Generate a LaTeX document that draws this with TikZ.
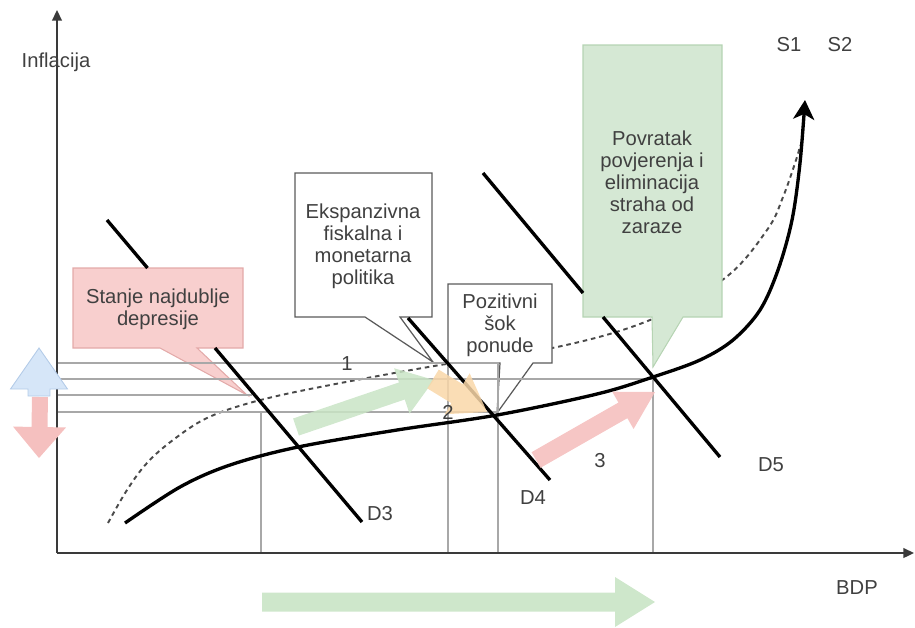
\documentclass[tikz,border=0pt]{standalone}
\usepackage{fontspec}
\setmainfont{Liberation Sans}
\usetikzlibrary{calc,arrows.meta}
\definecolor{txt}{HTML}{404040}
\definecolor{gridc}{HTML}{A8A8A8}
\definecolor{axisc}{HTML}{3A3A3A}
\definecolor{dashc}{HTML}{4A4A4A}
\definecolor{pinkfill}{HTML}{F8CFCE}
\definecolor{pinkdraw}{HTML}{E3AAA9}
\definecolor{greenfill}{HTML}{D5E8D4}
\definecolor{greendraw}{HTML}{B6D4B3}
\definecolor{boxdraw}{HTML}{5A5A5A}
\definecolor{garrow}{HTML}{C9E4C5}
\definecolor{oarrow}{HTML}{F9D7A8}
\definecolor{parrow}{HTML}{F5C0BF}
\definecolor{bfill}{HTML}{D6E6F8}
\definecolor{bdraw}{HTML}{B3CBE8}
\tikzset{
  gridln/.style={draw=gridc, line width=0.8pt},
  blk/.style={draw=black, line width=1.9pt},
  axisln/.style={draw=axisc, line width=1pt, -{Triangle[width=5.5pt,length=6pt]}},
  lbl/.style={font=\fontsize{11.5}{12.5}\selectfont, text=txt, inner sep=0pt},
  boxtxt/.style={lbl, align=center},
  cpink/.style={fill=pinkfill, draw=pinkdraw, line width=0.6pt},
  cgreen/.style={fill=greenfill, draw=greendraw, line width=0.6pt},
  cwhite/.style={fill=white, draw=boxdraw, line width=0.7pt},
  dashcurve/.style={draw=dashc, line width=1.1pt, dash pattern=on 2.6pt off 2.2pt},
}
% #1 style, #2 tail, #3 tip, #4 body half width, #5 head half width, #6 head length
\newcommand{\blockarr}[6]{%
  \coordinate (bac) at ($(#3)!#6!(#2)$);
  \path[#1] ($(#2)!#4!90:(#3)$) -- ($(bac)!#4!-90:(#2)$) -- ($(bac)!#5!-90:(#2)$) -- (#3)
    -- ($(bac)!#5!90:(#2)$) -- ($(bac)!#4!90:(#2)$) -- ($(#2)!#4!-90:(#3)$) -- cycle;
}
\begin{document}
\begin{tikzpicture}[x=0.02cm,y=-0.02cm]
\useasboundingbox (0,0) rectangle (915,627);

% dashed supply curve S1
\draw[dashcurve] plot[smooth, tension=0.6] coordinates {(108,523) (127,490) (147,463) (173,440) (207,418) (253,402) (320,387) (440,365) (557,347) (650,320) (725,278) (767,230) (783,197) (797,157) (800,145)};

% callouts
\path[cpink] (73,268) -- (243,268) -- (243,348) -- (197,348) -- (247,395) -- (160,348) -- (73,348) -- cycle;
\node[boxtxt] (tpink) at (158,309) {Stanje najdublje\\depresije};

\path[cwhite] (295,173) -- (432,173) -- (432,317) -- (400,317) -- (433,362) -- (365,317) -- (295,317) -- cycle;
\node[boxtxt] (teksp) at (363,246) {Ekspanzivna\\fiskalna i\\monetarna\\politika};

\path[cwhite] (448,284) -- (552,284) -- (552,363) -- (533,363) -- (497,413) -- (500,363) -- (448,363) -- cycle;
\node[boxtxt] (tpoz) at (500,325) {Pozitivni\\šok\\ponude};

\path[cgreen] (583,45) -- (722,45) -- (722,317) -- (683,317) -- (653,367) -- (652,317) -- (583,317) -- cycle;
\node[boxtxt] (tpov) at (652,182) {Povratak\\povjerenja i\\eliminacija\\straha od\\zaraze};

% grid / projection lines
\draw[gridln] (57,363) -- (498,363) -- (498,553);
\draw[gridln] (57,379) -- (653,379) -- (653,553);
\draw[gridln] (57,395) -- (252,395);
\draw[gridln] (57,412) -- (497,412);
\draw[gridln] (261,412) -- (261,553);
\draw[gridln] (448,363) -- (448,553);

% axes
\coordinate (O) at (57,553);
\coordinate (ytop) at (57,10);
\coordinate (xend) at (914,553);
\draw[axisln] (O) -- (ytop);
\draw[axisln] (O) -- (xend);

% demand lines
\coordinate (d3a) at (107,220); \coordinate (d3b) at (147.5,268);
\coordinate (d3c) at (215,348); \coordinate (d3d) at (362,522);
\draw[blk] (d3a) -- (d3b);
\draw[blk] (d3c) -- (d3d);
\coordinate (d4a) at (408,318); \coordinate (d4b) at (550,480);
\draw[blk] (d4a) -- (d4b);
\coordinate (d5a) at (483,173); \coordinate (d5b) at (583,293);
\coordinate (d5c) at (603,317); \coordinate (d5d) at (720,457);
\draw[blk] (d5a) -- (d5b);
\draw[blk] (d5c) -- (d5d);

% solid supply curve S2
\draw[blk, -{Stealth[length=11pt,width=12pt,inset=3pt]}] plot[smooth, tension=0.55] coordinates {(125,523) (180,487) (230,465) (298,447) (397,430) (497,415) (597,394) (653,377) (700,360) (733,340) (760,310) (778,270) (792,220) (800,163) (805,100)};

% block arrows
\coordinate (ga1) at (296,427); \coordinate (ga2) at (434,380);
\blockarr{fill=garrow, fill opacity=0.85}{ga1}{ga2}{1.8mm}{4.8mm}{6.8mm}
\coordinate (oa1) at (433,379); \coordinate (oa2) at (487,412);
\blockarr{fill=oarrow, fill opacity=0.85}{oa1}{oa2}{2.2mm}{4.8mm}{7mm}
\coordinate (pa1) at (536,460); \coordinate (pa2) at (655,392);
\blockarr{fill=parrow, fill opacity=0.9}{pa1}{pa2}{1.8mm}{4.3mm}{7.4mm}
\coordinate (ba1) at (262,602); \coordinate (ba2) at (655,602);
\blockarr{fill=garrow, fill opacity=0.9}{ba1}{ba2}{1.9mm}{5mm}{8mm}
\coordinate (ua1) at (39,396); \coordinate (ua2) at (39,348);
\blockarr{fill=bfill, draw=bdraw, line width=0.5pt}{ua1}{ua2}{2.2mm}{5.7mm}{8.2mm}
\coordinate (da1) at (40,397); \coordinate (da2) at (39,458);
\blockarr{fill=parrow}{da1}{da2}{1.6mm}{5.3mm}{6.2mm}

% labels
\node[lbl] (linf) at (56,62) {Inflacija};
\node[lbl] (lbdp) at (857,588) {BDP};
\node[lbl] (ls1) at (789,45) {S1};
\node[lbl] (ls2) at (840,45) {S2};
\node[lbl] (ld3) at (380,514) {D3};
\node[lbl] (ld4) at (533,498) {D4};
\node[lbl] (ld5) at (771,465) {D5};
\node[lbl] (n1) at (347,364) {1};
\node[lbl] (n2) at (448,412) {2};
\node[lbl] (n3) at (600,461) {3};
\end{tikzpicture}
\end{document}
